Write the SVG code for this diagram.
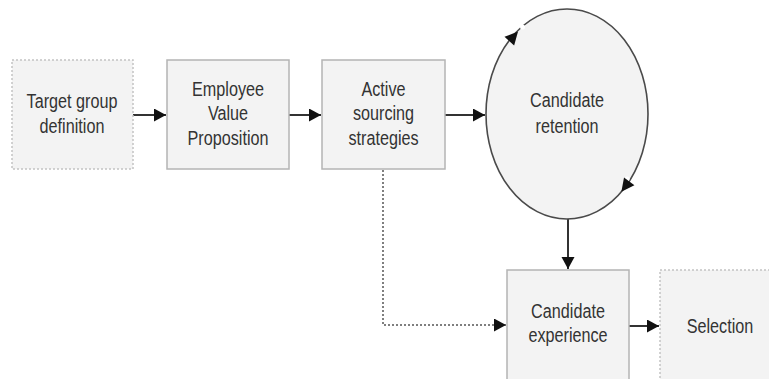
<svg xmlns="http://www.w3.org/2000/svg" width="769" height="379" viewBox="0 0 769 379">
  <defs>
    <style>
      .box { fill: #f3f3f3; stroke: #b4b4b4; stroke-width: 1.5; }
      .dbox { fill: #f3f3f3; stroke: #c4c4c4; stroke-width: 1.5; stroke-dasharray: 2 2; }
      .lbl { font-family: "Liberation Sans", Arial, sans-serif; font-size: 20px; fill: #333; text-anchor: middle; }
      .conn { fill: none; stroke: #333; stroke-width: 2; }
      .dot { fill: none; stroke: #555; stroke-width: 1.5; stroke-dasharray: 2 2; }
    </style>
    <marker id="ah" markerUnits="userSpaceOnUse" markerWidth="13" markerHeight="14" refX="12" refY="6.5" orient="auto">
      <path d="M0,0 L12,6.5 L0,13 z" fill="#111"/>
    </marker>
  </defs>

  <g id="connectors">
    <line class="conn" x1="133" y1="115" x2="166" y2="115" marker-end="url(#ah)"/>
    <line class="conn" x1="289" y1="115" x2="321" y2="115" marker-end="url(#ah)"/>
    <line class="conn" x1="445" y1="115" x2="485" y2="115" marker-end="url(#ah)"/>
    <line class="conn" x1="568" y1="219" x2="568" y2="269" marker-end="url(#ah)"/>
    <line class="conn" x1="629" y1="326" x2="659" y2="326" marker-end="url(#ah)"/>
    <polyline class="dot" points="383,170 383,325 506,325" marker-end="url(#ah)"/>
  </g>

  <g id="target-group">
    <rect class="dbox" x="12" y="60" width="121" height="109"/>
    <g transform="translate(72,0) scale(0.81,1)">
      <text class="lbl" x="0" y="108">Target group</text>
      <text class="lbl" x="0" y="133">definition</text>
    </g>
  </g>

  <g id="evp">
    <rect class="box" x="167" y="60" width="122" height="109"/>
    <g transform="translate(228,0) scale(0.81,1)">
      <text class="lbl" x="0" y="96">Employee</text>
      <text class="lbl" x="0" y="120">Value</text>
      <text class="lbl" x="0" y="145">Proposition</text>
    </g>
  </g>

  <g id="active-sourcing">
    <rect class="box" x="322" y="60" width="123" height="109"/>
    <g transform="translate(383.5,0) scale(0.81,1)">
      <text class="lbl" x="0" y="96">Active</text>
      <text class="lbl" x="0" y="120">sourcing</text>
      <text class="lbl" x="0" y="145">strategies</text>
    </g>
  </g>

  <g id="candidate-retention">
    <ellipse cx="567" cy="114" rx="81" ry="105" fill="#f3f3f3" stroke="#4a4a4a" stroke-width="1.6"/>
    <circle cx="522.5" cy="27" r="2.5" fill="#fff"/>
    <circle cx="627" cy="179" r="2.5" fill="#fff"/>
    <path d="M-7,-6.5 L6,0 L-7,6.5 z" fill="#111" transform="translate(514,36) rotate(-48)"/>
    <path d="M-7,-6.5 L6,0 L-7,6.5 z" fill="#111" transform="translate(625,187) rotate(127)"/>
    <g transform="translate(567,0) scale(0.81,1)">
      <text class="lbl" x="0" y="107">Candidate</text>
      <text class="lbl" x="0" y="133">retention</text>
    </g>
  </g>

  <g id="candidate-experience">
    <rect class="box" x="507" y="270" width="122" height="120"/>
    <g transform="translate(568,0) scale(0.81,1)">
      <text class="lbl" x="0" y="318">Candidate</text>
      <text class="lbl" x="0" y="342">experience</text>
    </g>
  </g>

  <g id="selection">
    <rect class="dbox" x="660" y="270" width="122" height="120"/>
    <g transform="translate(720,0) scale(0.81,1)">
      <text class="lbl" x="0" y="333">Selection</text>
    </g>
  </g>
</svg>
